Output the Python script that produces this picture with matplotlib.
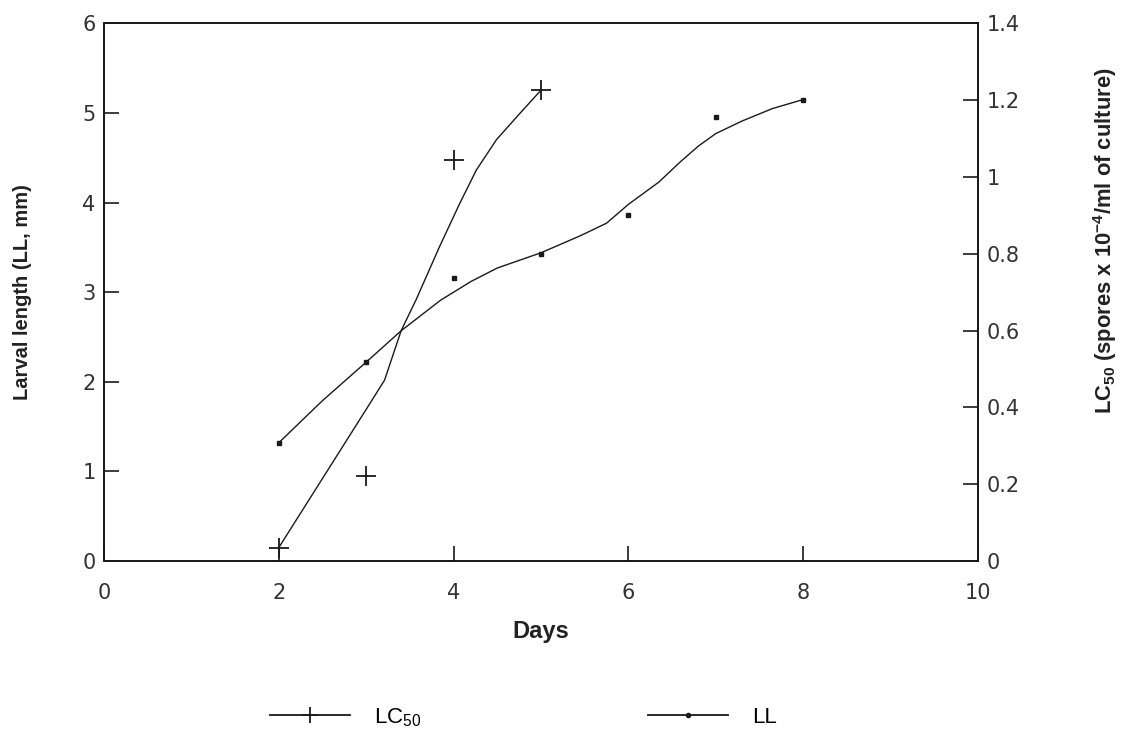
import matplotlib
matplotlib.use("Agg")
import matplotlib.pyplot as plt
from matplotlib.lines import Line2D

# measured data (days)
ll_days = [2, 3, 4, 5, 6, 7, 8]
ll_values = [1.32, 2.22, 3.16, 3.43, 3.86, 4.95, 5.15]          # larval length, mm
lc_days = [2, 3, 4, 5]
lc_values = [0.035, 0.221, 1.043, 1.226]                        # LC50

# fitted curves as drawn in the figure
ll_fit_days = [2.0, 2.5, 3.0, 3.4, 3.85, 4.2, 4.5, 5.0, 5.45, 5.75, 6.0, 6.35, 6.6, 6.8, 7.0, 7.3, 7.65, 8.0]
ll_fit_values = [1.32, 1.79, 2.22, 2.57, 2.91, 3.12, 3.27, 3.44, 3.63, 3.77, 3.98, 4.23, 4.46, 4.63, 4.77, 4.91, 5.05, 5.15]
lc_fit_days = [2.0, 2.5, 3.0, 3.21, 3.4, 3.57, 3.84, 4.07, 4.26, 4.49, 4.76, 5.0]
lc_fit_values = [0.035, 0.215, 0.395, 0.471, 0.600, 0.680, 0.819, 0.931, 1.018, 1.097, 1.166, 1.226]

x_ticks = [0, 2, 4, 6, 8, 10]
left_ticks = [0, 1, 2, 3, 4, 5, 6]
right_ticks = [0, 0.2, 0.4, 0.6, 0.8, 1, 1.2, 1.4]
right_labels = ["0", "0.2", "0.4", "0.6", "0.8", "1", "1.2", "1.4"]

plt.rcParams['font.family'] = ['Liberation Sans', 'DejaVu Sans']
plt.rcParams['mathtext.default'] = 'regular'

fig = plt.figure(figsize=(11.21, 7.42), dpi=100)
ax = fig.add_axes([0.0928, 0.2439, 0.7796, 0.7246])
ax2 = ax.twinx()

lw = 1.0
col = '#1a1a1a'
ax.plot(ll_fit_days, ll_fit_values, color=col, lw=lw)
ax.plot(ll_days, ll_values, linestyle='none', marker='s', markersize=3, color=col)
ax2.plot(lc_fit_days, lc_fit_values, color=col, lw=lw)
ax2.plot(lc_days, lc_values, linestyle='none', marker='+', markersize=14, markeredgewidth=1.3, color=col)

ax.set_xlim(0, 10)
ax.set_ylim(0, 6)
ax2.set_ylim(0, 1.4)
ax.set_xticks(x_ticks)
ax.set_yticks(left_ticks)
ax2.set_yticks(right_ticks)
ax2.set_yticklabels(right_labels)

for a in (ax, ax2):
    for s in a.spines.values():
        s.set_linewidth(1.3)
        s.set_color(col)
ax.tick_params(axis='both', direction='in', length=11, width=1.2, colors=col)
ax.tick_params(axis='x', pad=16)
ax.tick_params(axis='y', pad=6)
ax2.tick_params(axis='y', direction='in', length=11, width=1.2, pad=6, colors=col)
for lab in ax.get_xticklabels() + ax.get_yticklabels() + ax2.get_yticklabels():
    lab.set_fontfamily('DejaVu Sans')
    lab.set_fontsize(15)
    lab.set_color('#333333')

ax.set_xlabel('Days', fontsize=17, fontweight='bold', labelpad=12, color='#222222')
ax.set_ylabel('Larval length (LL, mm)', fontsize=14.5, fontweight='bold', color='#222222')
ax.yaxis.set_label_coords(-0.082, 0.5)
ax2.set_ylabel('LC$_{50}$ (spores x 10$^{-4}$/ml of culture)', fontsize=15.8, fontweight='bold', color='#222222')
ax2.yaxis.set_label_coords(1.130, 0.595)

h1 = Line2D([], [], color=col, lw=1.3, marker='+', markersize=12, markeredgewidth=1.3)
h2 = Line2D([], [], color=col, lw=1.3, marker='o', markersize=3)
fig.legend([h1, h2], ['LC$_{50}$', 'LL'], loc='center', bbox_to_anchor=(0.467, 0.033),
           ncol=2, frameon=False, handlelength=3.6, handletextpad=1.1, columnspacing=10.2,
           prop={'family': ['Liberation Sans Narrow', 'Liberation Sans'], 'size': 16})

fig.savefig('out.png', dpi=100)
